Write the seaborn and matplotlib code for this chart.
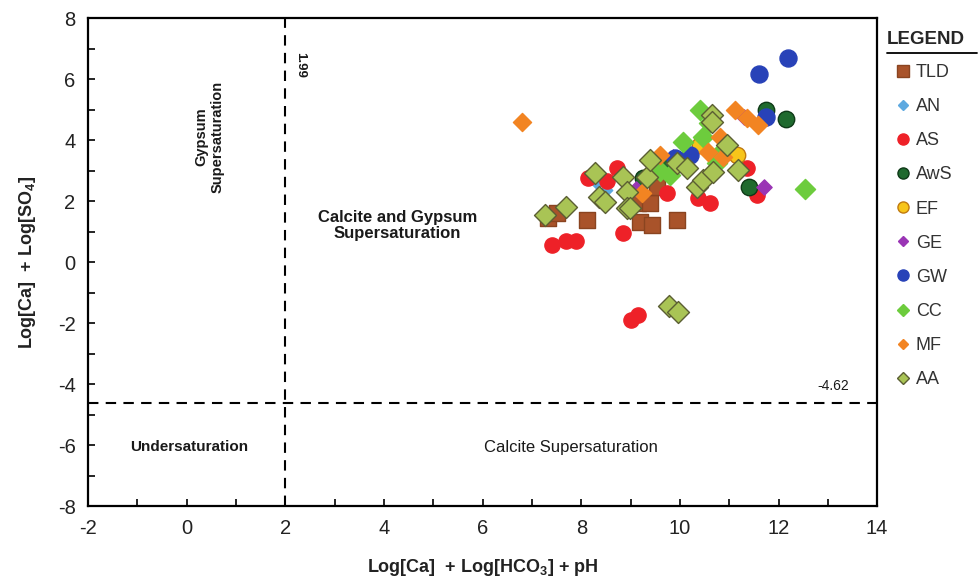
import matplotlib
matplotlib.use("Agg")
import matplotlib.pyplot as plt
import seaborn as sns
import pandas as pd
from matplotlib.lines import Line2D
from matplotlib.ticker import MultipleLocator

# ---- data ----
TLD_x = [7.33, 7.5, 8.12, 9.2, 9.44, 9.95, 9.14, 9.4, 9.54]
TLD_y = [1.44, 1.6, 1.38, 1.3, 1.2, 1.38, 1.93, 1.93, 2.46]
AN_x = [8.32, 8.5]
AN_y = [2.6, 2.35]
AS_x = [7.4, 7.7, 7.9, 8.14, 8.53, 8.73, 8.85, 9.6, 9.74, 10.37, 10.6, 11.37, 11.57, 9.0, 9.16]
AS_y = [0.55, 0.7, 0.7, 2.75, 2.66, 3.1, 0.95, 3.18, 2.26, 2.1, 1.93, 3.08, 2.2, -1.9, -1.74]
AwS_x = [11.75, 12.15, 11.4, 9.25, 9.7]
AwS_y = [5.0, 4.7, 2.45, 2.75, 3.2]
EF_x = [11.15, 10.4]
EF_y = [3.5, 3.85]
GE_x = [11.7, 9.85, 11.3, 9.1]
GE_y = [2.45, 3.45, 4.75, 2.4]
GW_x = [12.2, 11.6, 11.75, 10.2, 9.9]
GW_y = [6.7, 6.15, 4.75, 3.5, 3.4]
CC_x = [12.54, 10.41, 10.58, 10.07, 10.47, 9.8, 10.82, 10.76, 9.6]
CC_y = [2.39, 4.98, 4.56, 3.93, 4.1, 2.85, 3.57, 3.25, 3.0]
MF_x = [6.8, 11.12, 11.37, 11.59, 10.82, 10.56, 10.88, 9.6, 9.24]
MF_y = [4.59, 4.98, 4.72, 4.49, 4.1, 3.61, 3.44, 3.5, 2.26]
AA_x = [7.27, 7.7, 8.28, 8.35, 8.49, 8.85, 8.93, 8.93, 9.34, 9.4, 9.95, 10.15,
        10.35, 10.47, 10.68, 10.96, 11.18, 10.66, 10.66, 9.77, 9.97, 8.99]
AA_y = [1.54, 1.8, 2.92, 2.13, 1.97, 2.79, 2.3, 1.77, 2.79, 3.34, 3.25, 3.08,
        2.46, 2.69, 2.95, 3.84, 3.02, 4.82, 4.6, -1.44, -1.64, 1.77]

gypsum_line = -4.62
calcite_line = 1.99

groups = ["TLD", "AN", "AS", "AwS", "EF", "GE", "GW", "CC", "MF", "AA"]
xs = [TLD_x, AN_x, AS_x, AwS_x, EF_x, GE_x, GW_x, CC_x, MF_x, AA_x]
ys = [TLD_y, AN_y, AS_y, AwS_y, EF_y, GE_y, GW_y, CC_y, MF_y, AA_y]

# style per group: marker, face, edge, size, legend size
styles = {
    "TLD": ("s", "#A9532A", "#8a4420", 140, 8),
    "AN":  ("D", "#5DA9E0", "#5DA9E0", 40, 5),
    "AS":  ("o", "#EE2128", "#EE2128", 120, 8),
    "AwS": ("o", "#1F6A2E", "#0f3a18", 140, 8),
    "EF":  ("o", "#F7C51A", "#C07A10", 140, 8),
    "GE":  ("D", "#9A35B5", "#9A35B5", 60, 5),
    "GW":  ("o", "#2842B8", "#2842B8", 150, 8),
    "CC":  ("D", "#6DCC3D", "#6DCC3D", 105, 6),
    "MF":  ("D", "#F28422", "#F28422", 85, 5),
    "AA":  ("D", "#A9C455", "#5B5E33", 125, 6),
}

df = pd.concat([pd.DataFrame({"x": x, "y": y, "group": g}) for g, x, y in zip(groups, xs, ys)],
               ignore_index=True)

sns.set_style("white")
plt.rcParams["font.family"] = ["Liberation Sans", "DejaVu Sans"]
plt.rcParams["axes.unicode_minus"] = False

fig = plt.figure(figsize=(9.79, 5.83), dpi=100)
ax = fig.add_axes([0.09, 0.132, 0.806, 0.837])

handles = []
for g in groups:
    m, fc, ec, s, ls = styles[g]
    sub = df[df["group"] == g]
    sns.scatterplot(data=sub, x="x", y="y", marker=m, color=fc, edgecolor=ec,
                    linewidth=1.0, s=s, ax=ax, legend=False, zorder=3)
    handles.append(Line2D([], [], marker=m, linestyle="none", markerfacecolor=fc,
                          markeredgecolor=ec, markersize=ls, markeredgewidth=1.0))

ax.axvline(calcite_line, color="black", linestyle=(0, (5, 3.5)), linewidth=1.5, zorder=2)
ax.axhline(gypsum_line, color="black", linestyle=(0, (5, 3.5)), linewidth=1.5, zorder=2)

ax.set_xlim(-2, 14)
ax.set_ylim(-8, 8)
ax.xaxis.set_major_locator(MultipleLocator(2))
ax.xaxis.set_minor_locator(MultipleLocator(1))
ax.yaxis.set_major_locator(MultipleLocator(2))
ax.yaxis.set_minor_locator(MultipleLocator(1))
ax.tick_params(which="both", direction="in", color="black", width=1.2,
               bottom=True, left=True, top=False, right=False)
ax.tick_params(which="major", length=5, labelsize=14.5, pad=9, labelcolor="#222222")
ax.tick_params(which="minor", length=5)
for sp in ax.spines.values():
    sp.set_color("black")
    sp.set_linewidth(1.6)

ax.set_xlabel(r"Log[Ca]  + Log[HCO$_\mathregular{3}$] + pH", fontsize=13, fontweight="bold",
              labelpad=14, color="#222222")
ax.set_ylabel(r"Log[Ca]  + Log[SO$_\mathregular{4}$]", fontsize=13, fontweight="bold",
              labelpad=14, color="#222222")

ax.text(0.47, 4.1, "Gypsum\nSupersaturation", rotation=90, ha="center", va="center",
        fontsize=10.5, fontweight="bold", color="#1a1a1a")
ax.text(2.3, 6.45, "1.99", rotation=-90, ha="center", va="center", fontsize=9.5,
        fontweight="bold", color="#1a1a1a")
ax.text(4.27, 1.2, "Calcite and Gypsum\nSupersaturation", ha="center", va="center",
        fontsize=12, fontweight="bold", color="#1a1a1a", linespacing=1.15)
ax.text(0.05, -6.07, "Undersaturation", ha="center", va="center", fontsize=11,
        fontweight="bold", color="#1a1a1a")
ax.text(7.8, -6.07, "Calcite Supersaturation", ha="center", va="center", fontsize=12,
        color="#1a1a1a")
ax.text(13.1, -4.05, "-4.62", ha="center", va="center", fontsize=10, color="#1a1a1a")

leg = ax.legend(handles, groups, loc="upper left", bbox_to_anchor=(1.003, 0.932),
                frameon=False, fontsize=13, handletextpad=0.1, labelspacing=0.95,
                handlelength=1.2, borderaxespad=0.3)
for t in leg.get_texts():
    t.set_color("#333333")

fig.text(0.906, 0.932, "LEGEND", fontsize=13.5, fontweight="bold", ha="left", va="center")
fig.add_artist(Line2D([0.906, 0.998], [0.909, 0.909], color="black", linewidth=1.3,
                      transform=fig.transFigure))

fig.savefig("out.png", dpi=100)
